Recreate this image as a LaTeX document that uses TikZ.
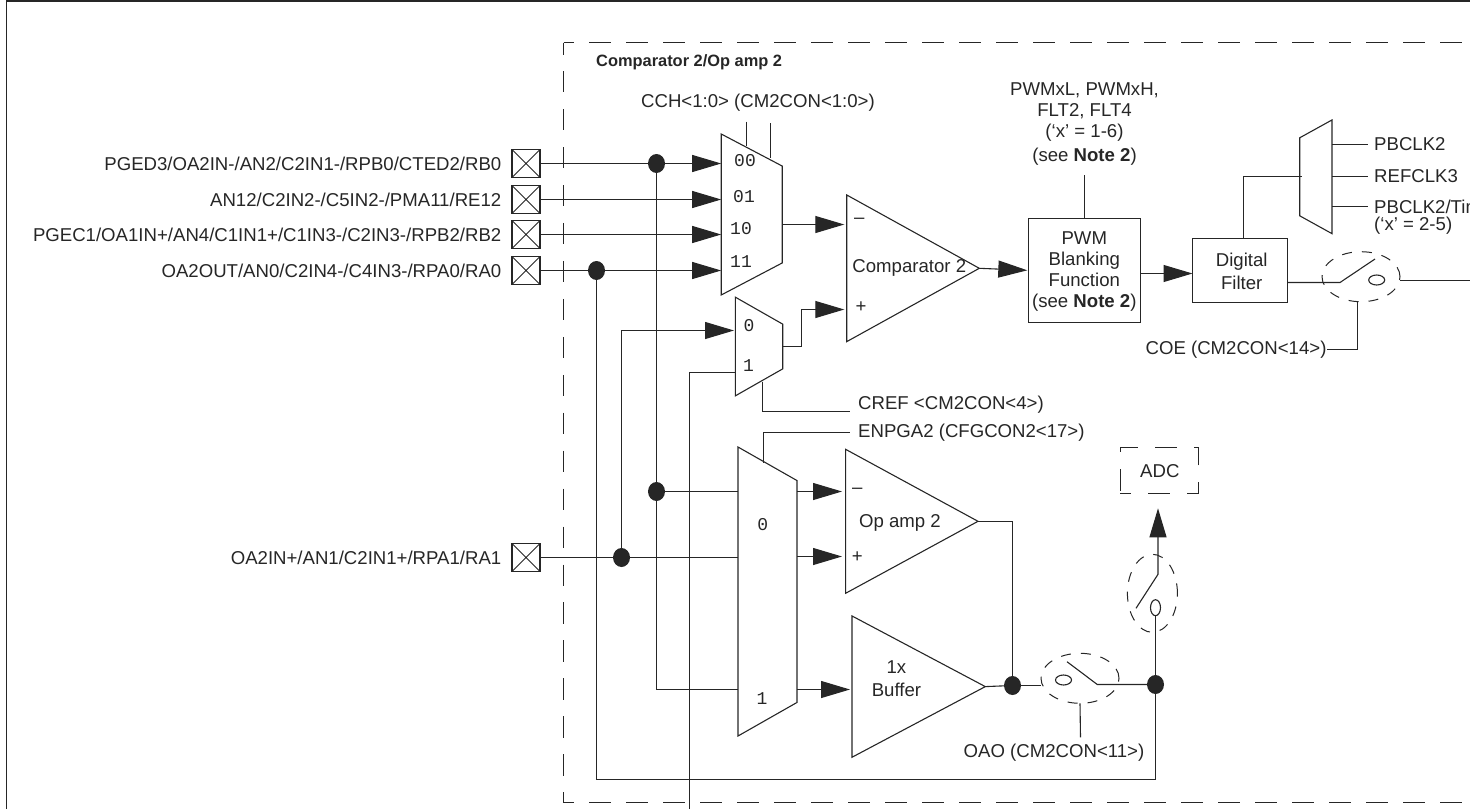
\documentclass[tikz,border=0pt]{standalone}
\usepackage{fontspec}
\setmainfont{Liberation Sans}
\newfontfamily\pinfont{Liberation Mono}
\usetikzlibrary{arrows.meta,shapes.geometric}
\colorlet{ink}{black!85}
\tikzset{
    wire/.style={draw=ink,line width=1.1pt},
    sig/.style={wire,-{Triangle[length=29pt,width=17pt]}},
    txt/.style={text=ink,inner sep=0pt,font=\fontsize{18.6}{21}\selectfont,align=center},
    padlab/.style={txt,xshift=-10.5pt},
    pinnum/.style={text=ink,inner sep=0pt,font=\pinfont\fontsize{18}{20}\selectfont},
    padbox/.style={wire,minimum size=28pt,inner sep=0pt,outer sep=0pt,
        path picture={\draw[ink,line width=.8pt] (path picture bounding box.south west)--(path picture bounding box.north east)
            (path picture bounding box.north west)--(path picture bounding box.south east);}},
    dot/.style={fill=ink,ellipse,minimum width=17pt,minimum height=19pt,inner sep=0pt,outer sep=0pt},
    muxbox/.style={wire,trapezium,trapezium stretches=true,inner sep=1pt,outer sep=0pt,anchor=south},
    amp/.style={wire,isosceles triangle,isosceles triangle stretches,shape border rotate=0,inner sep=0pt,outer sep=0pt,anchor=lower side},
    blockbox/.style={wire,rectangle,inner sep=0pt,outer sep=0pt},
    ring/.style={draw=ink,line width=1pt,ellipse,inner sep=0pt,outer sep=0pt,dash pattern=on 10pt off 10pt},
    contact/.style={wire,ellipse,inner sep=0pt,outer sep=0pt},
}
\begin{document}
\begin{tikzpicture}[x=1pt,y=-1pt]
    \useasboundingbox (0,0) rectangle (1470,809);
    \clip (0,0) rectangle (1470,809);
    \coordinate (frmb) at (6.5,809);
    \coordinate (frmt) at (6.5,1);
    \coordinate (frmr) at (1470,1);
    \draw[wire,line width=1.4pt] (frmb)--(frmt)--(frmr);
    \coordinate (dshtl) at (563.5,42.5);
    \coordinate (dshtr) at (1470,42.5);
    \coordinate (dshbl) at (563.5,802.5);
    \coordinate (dshbr) at (1470,802.5);
    \draw[wire,dash pattern=on 22pt off 15pt,dash phase=11.3pt] (dshtl)--(dshtr);
    \draw[wire,dash pattern=on 22pt off 15pt,dash phase=11.3pt] (dshbl)--(dshbr);
    \draw[wire,dash pattern=on 21.3pt off 16.65pt,dash phase=9.3pt] (dshtl)--(dshbl);
    \node[txt,anchor=west,font=\fontsize{16.4}{18}\selectfont\bfseries] (title) at (596,62.7) {Comparator 2/Op amp 2};

    \node[padbox,label={[padlab]left:PGED3/OA2IN-/AN2/C2IN1-/RPB0/CTED2/RB0}] (pada) at (526,163.5) {};
    \node[padbox,label={[padlab]left:AN12/C2IN2-/C5IN2-/PMA11/RE12}] (padb) at (526,199.5) {};
    \node[padbox,label={[padlab]left:PGEC1/OA1IN+/AN4/C1IN1+/C1IN3-/C2IN3-/RPB2/RB2}] (padc) at (526,234.5) {};
    \node[padbox,label={[padlab]left:OA2OUT/AN0/C2IN4-/C4IN3-/RPA0/RA0}] (padd) at (526,270.5) {};
    \node[padbox,label={[padlab]left:OA2IN+/AN1/C2IN1+/RPA1/RA1}] (pade) at (526,557.5) {};

    \node[muxbox,rotate=-90,minimum width=161pt,minimum height=61pt,trapezium left angle=71.7,trapezium right angle=71.7] (muxa) at (721.2,214.5) {};
    \node[muxbox,rotate=-90,minimum width=98.7pt,minimum height=47.4pt,trapezium left angle=58.9,trapezium right angle=58.9] (muxb) at (735.3,346.5) {};
    \node[muxbox,rotate=-90,minimum width=289pt,minimum height=59pt,trapezium left angle=81.4,trapezium right angle=81.4] (muxc) at (738,591.5) {};
    \node[muxbox,rotate=90,minimum width=113.7pt,minimum height=32.3pt,trapezium left angle=77.1,trapezium right angle=77.1] (muxd) at (1332,176.8) {};

    \node[pinnum] (pa) at (745,161) {00};
    \node[pinnum] (pb) at (744,197) {01};
    \node[pinnum] (pc) at (741,229) {10};
    \node[pinnum] (pd) at (741,262) {11};
    \node[pinnum] (pe) at (749,326) {0};
    \node[pinnum] (pf) at (748.5,366) {1};
    \node[pinnum] (pg) at (762.7,525) {0};
    \node[pinnum] (ph) at (762,698.5) {1};

    \node[dot] (ja) at (656.5,163.5) {};
    \node[dot] (jb) at (656.5,491.5) {};
    \node[dot] (jc) at (621.5,557.5) {};
    \node[dot] (jd) at (1012.5,685.5) {};
    \node[dot] (je) at (1155.5,684.5) {};
    \node[dot] (jf) at (596.5,270.5) {};

    \draw[sig] (pada.east) -- (pada.east -| muxa.south);
    \draw[sig] (padb.east) -- (padb.east -| muxa.south);
    \draw[sig] (padc.east) -- (padc.east -| muxa.south);
    \draw[sig] (padd.east) -- (padd.east -| muxa.south);
    \draw[wire] (pade.east) -- (pade.east -| muxc.south);

    \node[txt] (cch) at (758,103) {CCH<1:0> (CM2CON<1:0>)};
    \coordinate (ccha) at (746.5,121.7);
    \coordinate (cchb) at (770.5,123);
    \coordinate (mcha) at (746.5,146);
    \coordinate (mchb) at (770.5,157.5);
    \draw[wire] (ccha)--(mcha);
    \draw[wire] (cchb)--(mchb);

    \node[amp,minimum height=132.6pt,minimum width=146.7pt] (cmp) at (846.7,268.3) {};
    \node[txt] (cmptxt) at (909.3,268.3) {Comparator 2};
    \node[txt] (cmpm) at (859.3,221) {\textendash};
    \node[txt] (cmpp) at (861,307) {+};
    \coordinate (cmpin) at (844.3,224.5);
    \coordinate (cmpref) at (844.3,309.5);
    \draw[sig] (muxa.north |- cmpin)--(cmpin);
    \draw[sig] (muxb.north)--++(19,0)|-(cmpref);

    \coordinate (muxbin) at (734,330.5);
    \coordinate (muxbpin) at (735.3,372.5);
    \coordinate (srefb) at (689.5,809);
    \draw[sig] (jc)|-(muxbin);
    \draw[wire] (srefb)|-(muxbpin);
    \draw[wire] (ja)--(jb);
    \coordinate (muxcb) at (738,689.5);
    \draw[wire] (jb)|-(muxcb);
    \draw[wire] (jb)--(jb -| muxc.south);

    \coordinate (crefa) at (762.5,381.7);
    \coordinate (crefb) at (850,411.5);
    \draw[wire] (crefa)|-(crefb);
    \node[txt,anchor=west] (cref) at (858,404.5) {CREF <CM2CON<4>)};
    \coordinate (enpa) at (763.5,462.7);
    \node[txt,anchor=west,inner xsep=8pt] (enpga) at (850,432.5) {ENPGA2 (CFGCON2<17>)};
    \draw[wire] (enpa)|-(enpga.west);

    \node[blockbox,minimum width=112pt,minimum height=104pt] (pwm) at (1084.5,270.5) {};
    \node[txt] (pwmtxt) at (1084.3,271.3) {PWM\\Blanking\\Function\\(see \textbf{Note 2})};
    \node[txt] (flt) at (1084.5,124) {PWMxL, PWMxH,\\FLT2, FLT4\\(‘x’ = 1-6)\\[3pt](see \textbf{Note 2})};
    \coordinate (flta) at (1084.5,175);
    \draw[wire] (flta)--(pwm.north);
    \coordinate (pwmin) at (1027.3,270.3);
    \draw[sig] (cmp.apex)--(pwmin);

    \node[blockbox,minimum width=95pt,minimum height=64pt] (dflt) at (1240,270.5) {};
    \node[txt] (dflttxt) at (1241.7,271) {Digital\\[2pt]Filter};
    \draw[sig] (pwm.east |- 0,273.5)--(dflt.west |- 0,273.5);
    \coordinate (muxdin) at (1301.7,176.5);
    \draw[wire] (dflt.north -| 1243.5,0)|-(muxdin);

    \node[txt,anchor=west] (clka) at (1374,144.5) {PBCLK2};
    \node[txt,anchor=west] (clkb) at (1374,176.5) {REFCLK3};
    \node[txt,anchor=west] (clkc) at (1374,206.5) {PBCLK2/Tim};
    \node[txt,anchor=west] (clkd) at (1374,225.7) {(‘x’ = 2-5)};
    \draw[wire,shorten >=6pt] (muxd.south |- clka)--(clka.west);
    \draw[wire,shorten >=6pt] (muxd.south |- clkb)--(clkb.west);
    \draw[wire,shorten >=6pt] (muxd.south |- clkc)--(clkc.west);

    \node[ring,minimum width=78pt,minimum height=50pt] (swa) at (1361,276.7) {};
    \node[contact,minimum width=16pt,minimum height=10pt] (swacon) at (1376.7,280) {};
    \coordinate (swapiv) at (1340,282.5);
    \coordinate (swatip) at (1375,259);
    \coordinate (swaout) at (1470,280.5);
    \coordinate (coetop) at (1357.5,301.7);
    \draw[wire] (dflt.east |- swapiv)--(swapiv)--(swatip);
    \draw[wire] (swa.east |- swaout)--(swaout);
    \node[txt,anchor=east] (coe) at (1326.7,349.5) {COE (CM2CON<14>)};
    \draw[wire] (coetop)|-(coe.east);

    \node[amp,minimum height=132.4pt,minimum width=144pt] (opa) at (845.6,521.3) {};
    \node[txt] (opatxt) at (900,522.7) {Op amp 2};
    \node[txt] (opam) at (857.3,491) {\textendash};
    \node[txt] (opap) at (857.3,556.7) {+};
    \coordinate (opain) at (842,491.5);
    \coordinate (opbin) at (842,556.5);
    \draw[sig] (muxc.north |- opain)--(opain);
    \draw[sig] (muxc.north |- opbin)--(opbin);

    \node[amp,minimum height=133.3pt,minimum width=141.3pt] (buf) at (852,686.6) {};
    \node[txt] (buftxt) at (896.4,679) {1x\\[2pt]Buffer};
    \coordinate (bufin) at (850,689.5);
    \draw[sig] (muxc.north |- bufin)--(bufin);

    \draw[wire] (opa.apex)-|(jd);
    \draw[wire] (buf.apex)--(jd);

    \node[ring,minimum width=78pt,minimum height=50pt] (swb) at (1080,678.3) {};
    \node[contact,minimum width=16pt,minimum height=10pt] (swbcon) at (1063.5,680) {};
    \coordinate (swbtip) at (1067,661.7);
    \coordinate (swbpiv) at (1097.3,684.5);
    \coordinate (oaoend) at (1080.5,737.3);
    \draw[wire] (jd)--(swb.west |- jd);
    \draw[wire] (swbtip)--(swbpiv)--(je);
    \draw[wire] (swb.south)--(oaoend);
    \node[txt] (oao) at (1054,752.7) {OAO (CM2CON<11>)};

    \node[ring,minimum width=50pt,minimum height=78pt] (swc) at (1152.4,593.3) {};
    \node[contact,minimum width=10pt,minimum height=16pt] (swccon) at (1155.5,607.7) {};
    \coordinate (swctip) at (1136,608.3);
    \coordinate (swcpiv) at (1158,574.3);
    \draw[wire] (je)--(swccon.south);

    \node[blockbox,ring,rectangle,dash pattern=on 22pt off 17pt,dash phase=11pt,minimum width=78pt,minimum height=45.6pt] (adc) at (1159,470.5) {};
    \node[txt] (adctxt) at (1159.8,470.7) {ADC};
    \draw[sig,shorten >=15pt] (swctip)--(swcpiv)--(adc.south -| swcpiv);

    \coordinate (fbk) at (596.5,779.5);
    \draw[wire] (jf)--(fbk)--(fbk -| je)--(je);
\end{tikzpicture}
\end{document}
